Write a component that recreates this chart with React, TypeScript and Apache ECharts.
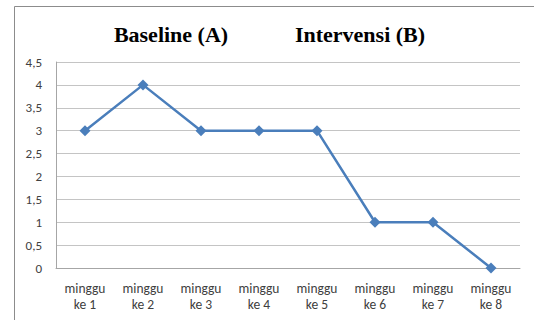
import React, { useEffect, useRef } from "react";
import * as echarts from "echarts";

const categories = ["minggu\nke 1", "minggu\nke 2", "minggu\nke 3", "minggu\nke 4", "minggu\nke 5", "minggu\nke 6", "minggu\nke 7", "minggu\nke 8"];
const values = [3, 4, 3, 3, 3, 1, 1, 0];
const phaseTitles = ["Baseline (A)", "Intervensi (B)"];

export default function App() {
  const ref = useRef<HTMLDivElement>(null);
  useEffect(() => {
    const chart = echarts.init(ref.current!, undefined, { renderer: "svg" });
    const titleFont = "bold 22px 'Liberation Serif', 'Times New Roman', serif";
    chart.setOption({
      animation: false,
      backgroundColor: "#ffffff",
      graphic: [
        {
          type: "rect",
          shape: { x: 14.5, y: 6.5, width: 540, height: 330 },
          style: { fill: "none", stroke: "#8c8c8c", lineWidth: 1 },
          z: 0,
        },
        {
          type: "text",
          x: 171,
          y: 34,
          style: { text: phaseTitles[0], font: titleFont, fill: "#000", align: "center", verticalAlign: "middle" },
        },
        {
          type: "text",
          x: 360,
          y: 34,
          style: { text: phaseTitles[1], font: titleFont, fill: "#000", align: "center", verticalAlign: "middle" },
        },
      ],
      grid: { left: 56, right: 14, top: 62, bottom: 52, containLabel: false },
      xAxis: {
        type: "category",
        data: categories,
        boundaryGap: true,
        axisLine: { show: true, lineStyle: { color: "#a6a6a6", width: 1 } },
        axisTick: { show: false },
        axisLabel: {
          color: "#404040",
          fontSize: 13.5,
          fontFamily: "Carlito, Lato, sans-serif",
          lineHeight: 16,
          margin: 12,
          interval: 0,
        },
      },
      yAxis: {
        type: "value",
        min: 0,
        max: 4.5,
        interval: 0.5,
        axisLine: { show: true, lineStyle: { color: "#a6a6a6", width: 1 } },
        axisTick: { show: false },
        splitLine: { show: true, lineStyle: { color: "#c4c4c4", width: 1 } },
        axisLabel: {
          color: "#404040",
          fontSize: 13,
          fontFamily: "Carlito, Lato, sans-serif",
          margin: 14,
          formatter: (v: number) => String(v).replace(".", ","),
        },
      },
      series: [
        {
          type: "line",
          data: values,
          symbol: "diamond",
          symbolSize: 11,
          lineStyle: { color: "#4a7ebb", width: 2.5 },
          itemStyle: { color: "#4a7ebb" },
        },
      ],
    });
    return () => chart.dispose();
  }, []);
  return <div ref={ref} style={{ width: 534, height: 320, position: "absolute", left: 0, top: 0 }} />;
}
